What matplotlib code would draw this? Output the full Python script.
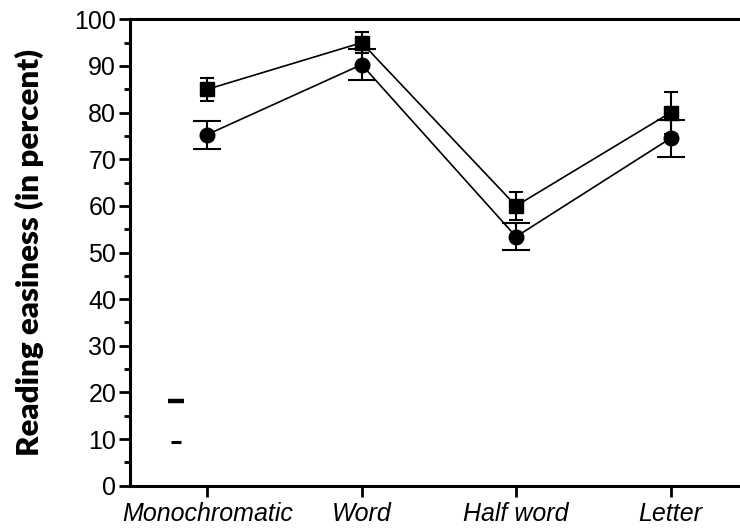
import matplotlib
matplotlib.use("Agg")
import matplotlib.pyplot as plt
from matplotlib.lines import Line2D
from matplotlib.ticker import MultipleLocator

# Datos
categorias = ["Monochromatic", "Word", "Half word", "Letter"]
cuadrados = [85.0, 95.0, 60.0, 80.0]
cuadrados_err = [2.5, 2.3, 3.0, 4.5]
circulos = [75.3, 90.3, 53.4, 74.5]
circulos_err = [3.0, 3.3, 2.9, 4.0]

plt.rcParams["font.family"] = ["Liberation Sans", "DejaVu Sans"]

fig = plt.figure(figsize=(7.4, 5.32), dpi=100)
ax = fig.add_axes([0.1757, 0.087, 0.8243, 0.8766])

x = list(range(len(categorias)))

ax.errorbar(x, cuadrados, yerr=cuadrados_err, fmt="s-", color="black",
            markersize=9.5, linewidth=1.2, elinewidth=1.5, capsize=5,
            capthick=1.5, zorder=3)
ax.errorbar(x, circulos, yerr=circulos_err, fmt="o-", color="black",
            markersize=10.5, linewidth=1.2, elinewidth=1.5, capsize=10,
            capthick=1.5, zorder=3)

# Restos de la leyenda (marcadores recortados)
handles = [
    Line2D([], [], linestyle="none", marker="_", markersize=11,
           markeredgewidth=3.2, color="black"),
    Line2D([], [], linestyle="none", marker="_", markersize=7,
           markeredgewidth=2.2, color="black"),
]
ax.legend(handles, ["", ""], loc="upper left", bbox_to_anchor=(0.053, 0.21),
          frameon=False, handlelength=1.0, labelspacing=1.95, borderpad=0,
          handletextpad=0)

ax.set_xlim(-0.5, 3.45)
ax.set_ylim(0, 100)
ax.set_xticks(x)
ax.set_xticklabels(categorias, fontstyle="italic", fontsize=18)
ax.yaxis.set_major_locator(MultipleLocator(10))
ax.yaxis.set_minor_locator(MultipleLocator(5))
ax.tick_params(axis="y", which="major", length=8, width=2, labelsize=18, pad=2)
ax.tick_params(axis="y", which="minor", length=4, width=2)
ax.tick_params(axis="x", which="major", length=8, width=2, pad=4)

for lado in ["left", "bottom", "top"]:
    ax.spines[lado].set_linewidth(2.2)
ax.spines["right"].set_visible(False)

ax.set_ylabel("Reading easiness (in percent)", fontsize=22.5, fontweight="heavy",
              family=["Lato", "DejaVu Sans"], labelpad=22)

fig.savefig("out.png", dpi=100)
